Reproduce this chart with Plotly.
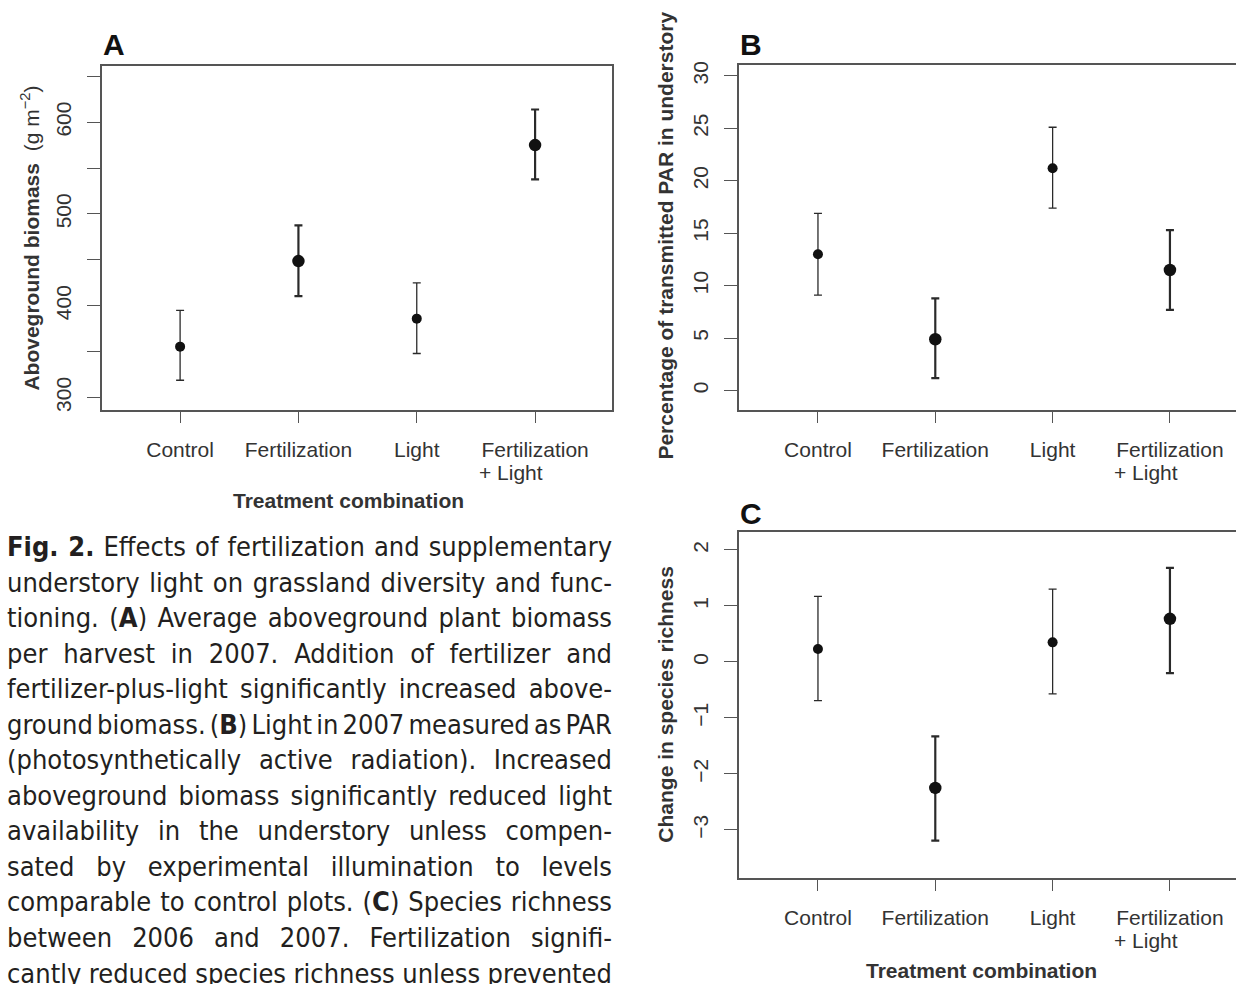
import plotly.graph_objects as go

W, H = 1236, 984

# Treatment groups (x positions 1..4); the last label wraps onto a second line
treatments = ["Control", "Fertilization", "Light", "Fertilization"]
treatment_second_line = ["", "", "", "+ Light"]
positions = [1, 2, 3, 4]
fertilized = [False, True, False, True]

# (A) Aboveground biomass per harvest, g m^-2
biomass_mean = [355.5, 448.7, 386.0, 575.0]
biomass_upper = [395.0, 487.5, 425.0, 613.8]
biomass_lower = [318.9, 410.6, 348.0, 537.6]

# (B) Percentage of transmitted PAR in understory
par_mean = [13.0, 4.9, 21.2, 11.5]
par_upper = [16.9, 8.8, 25.1, 15.3]
par_lower = [9.1, 1.2, 17.4, 7.7]

# (C) Change in species richness
richness_mean = [0.23, -2.25, 0.35, 0.77]
richness_upper = [1.17, -1.33, 1.30, 1.68]
richness_lower = [-0.69, -3.19, -0.57, -0.20]

biomass_ticks = [300, 400, 500, 600]
par_ticks = [0, 5, 10, 15, 20, 25, 30]
richness_ticks = [-3, -2, -1, 0, 1, 2]

caption_lines = [
    "<b>Fig. 2.</b> Effects of fertilization and supplementary",
    "understory light on grassland diversity and func-",
    "tioning. (<b>A</b>) Average aboveground plant biomass",
    "per harvest in 2007. Addition of fertilizer and",
    "fertilizer-plus-light significantly increased above-",
    "ground biomass. (<b>B</b>) Light in 2007 measured as PAR",
    "(photosynthetically active radiation). Increased",
    "aboveground biomass significantly reduced light",
    "availability in the understory unless compen-",
    "sated by experimental illumination to levels",
    "comparable to control plots. (<b>C</b>) Species richness",
    "between 2006 and 2007. Fertilization signifi-",
    "cantly reduced species richness unless prevented",
]

FONT = "Liberation Sans, Arial, Helvetica, sans-serif"
CAPTION_FONT = "Liberation Sans Narrow, DejaVu Sans Condensed, Liberation Sans, sans-serif"
AXIS_COLOR = "#555555"
TEXT_COLOR = "#333333"


def px_x(v):
    return v / W


def px_y(v):
    return 1 - v / H


fig = go.Figure()

panels = [
    ("x", "y", biomass_mean, biomass_upper, biomass_lower),
    ("x2", "y2", par_mean, par_upper, par_lower),
    ("x3", "y3", richness_mean, richness_upper, richness_lower),
]

for xa, ya, mean, upper, lower in panels:
    for group in (False, True):
        idx = [i for i in range(len(positions)) if fertilized[i] == group]
        fig.add_trace(go.Scatter(
            x=[positions[i] for i in idx],
            y=[mean[i] for i in idx],
            mode="markers",
            marker=dict(color="#111111", size=12.5 if group else 10),
            error_y=dict(
                type="data", symmetric=False,
                array=[upper[i] - mean[i] for i in idx],
                arrayminus=[mean[i] - lower[i] for i in idx],
                color="#2a2a2a",
                thickness=2.2 if group else 1.3,
                width=4,
            ),
            xaxis=xa, yaxis=ya, showlegend=False, hoverinfo="skip",
        ))

common_x = dict(
    tickmode="array", tickvals=positions, ticktext=treatments,
    ticks="outside", ticklen=12, tickwidth=1.4, tickcolor=AXIS_COLOR,
    showline=True, linecolor=AXIS_COLOR, linewidth=1.6, mirror=True,
    showgrid=False, zeroline=False, ticklabelstandoff=8,
    tickfont=dict(family=FONT, size=21, color=TEXT_COLOR),
)
common_y = dict(
    tickmode="array", tickangle=-90,
    ticks="outside", ticklen=13, tickwidth=1.4, tickcolor=AXIS_COLOR,
    showline=True, linecolor=AXIS_COLOR, linewidth=1.6,
    showgrid=False, zeroline=False, ticklabelstandoff=8,
    tickfont=dict(family=FONT, size=21, color=TEXT_COLOR),
)

fig.update_layout(
    width=W, height=H,
    margin=dict(l=0, r=0, t=0, b=0),
    paper_bgcolor="white", plot_bgcolor="white",
    xaxis=dict(common_x, domain=[px_x(102), px_x(612)], range=[0.34, 4.65], anchor="y"),
    yaxis=dict(common_y, domain=[px_y(408), px_y(62)], range=[287, 661.6], anchor="x",
               tickvals=biomass_ticks, mirror=True,
               minor=dict(ticks="outside", ticklen=13, tickwidth=1.4,
                          tickcolor=AXIS_COLOR, tick0=300, dtick=50, showgrid=False)),
    xaxis2=dict(common_x, domain=[px_x(739), 1.0], range=[0.327, 4.563], anchor="y2"),
    yaxis2=dict(common_y, domain=[px_y(408), px_y(61)], range=[-1.8, 31.07], anchor="x2",
                tickvals=par_ticks),
    xaxis3=dict(common_x, domain=[px_x(739), 1.0], range=[0.327, 4.563], anchor="y3"),
    yaxis3=dict(common_y, domain=[px_y(879), px_y(531)], range=[-3.852, 2.325], anchor="x3",
                tickvals=richness_ticks),
)

annotations = []


def label(text, x, y, size, angle=0, xanchor="center", yanchor="middle", family=FONT,
          color=TEXT_COLOR):
    annotations.append(dict(
        text=text, x=px_x(x), y=px_y(y), xref="paper", yref="paper",
        showarrow=False, textangle=angle, xanchor=xanchor, yanchor=yanchor,
        font=dict(family=family, size=size, color=color),
    ))


# second line of wrapped tick labels, left-aligned under the first line
for xa, line_y in (("x", 471), ("x2", 471), ("x3", 942)):
    for pos, extra in zip(positions, treatment_second_line):
        if extra:
            annotations.append(dict(
                text=extra, x=pos, xref=xa, y=px_y(line_y), yref="paper",
                xanchor="left", yanchor="middle", xshift=-58, showarrow=False,
                font=dict(family=FONT, size=21, color=TEXT_COLOR),
            ))

# panel letters
label("<b>A</b>", 101, 41, 30, xanchor="left", color="#111111")
label("<b>B</b>", 738, 41, 30, xanchor="left", color="#111111")
label("<b>C</b>", 738, 513, 30, xanchor="left", color="#111111")

# axis titles
label("<b>Aboveground biomass</b>  (g m<sup>\u22122</sup>)", 30, 236, 21, angle=-90)
label("<b>Percentage of transmitted PAR in understory</b>", 666, 233, 21, angle=-90)
label("<b>Change in species richness</b>", 666, 705, 21, angle=-90)
label("<b>Treatment combination</b>", 348, 500, 21)
label("<b>Treatment combination</b>", 981, 972, 21)

caption_start = len(annotations)
for i, line in enumerate(caption_lines):
    label(line, 5, 546 + 35.75 * i, 27, xanchor="left", family=CAPTION_FONT,
          color="#231f20")
for a in annotations[caption_start:]:
    a["align"] = "left"

fig.update_layout(annotations=annotations)

# Justify caption lines to a common width by spreading word spacing.
justify_js = """
(function() {
  var gd = document.getElementById('{plot_id}');
  var START = %d, WIDTH = %d;
  function justify() {
    var groups = gd.querySelectorAll('g.annotation');
    groups.forEach(function(g) {
      var idx = +g.getAttribute('data-index');
      if (idx < START) return;
      var t = g.querySelector('text.annotation-text');
      if (!t) return;
      t.style.wordSpacing = '0px';
      var len = t.getComputedTextLength();
      var n = (t.textContent.match(/ /g) || []).length;
      if (n > 0) t.style.wordSpacing = ((WIDTH - len) / n) + 'px';
    });
  }
  justify();
  gd.on('plotly_afterplot', justify);
})();
""" % (caption_start, 605)

fig.write_html("out.html", post_script=justify_js)
